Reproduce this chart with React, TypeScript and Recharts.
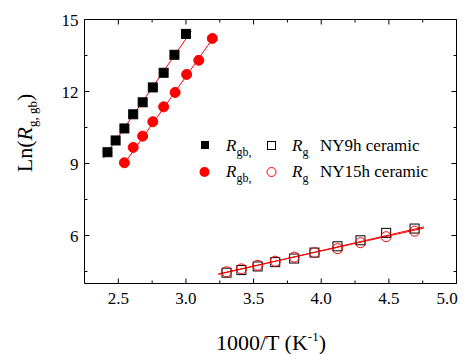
import { ComposedChart, Scatter, Line, XAxis, YAxis, ReferenceLine, Customized } from "recharts"

// NY9h ceramic, grain boundary (high temperature range)
const ny9GbX = [2.42, 2.48, 2.545, 2.61, 2.68, 2.755, 2.835, 2.915, 3.0]
const ny9GbY = [9.47, 9.96, 10.46, 11.05, 11.55, 12.17, 12.78, 13.53, 14.4]
// NY15h ceramic, grain boundary
const ny15GbX = [2.545, 2.61, 2.68, 2.755, 2.835, 2.92, 3.005, 3.095, 3.195]
const ny15GbY = [9.03, 9.67, 10.14, 10.74, 11.36, 11.96, 12.71, 13.3, 14.21]
// grain (low temperature range), both samples
const grainX = [3.3, 3.41, 3.53, 3.66, 3.8, 3.95, 4.12, 4.29, 4.48, 4.69]
const ny9GY = [4.45, 4.56, 4.71, 4.89, 5.04, 5.29, 5.55, 5.8, 6.11, 6.29]
const ny15GY = [4.49, 4.61, 4.76, 4.93, 5.1, 5.28, 5.45, 5.7, 5.95, 6.18]

// fitted lines, end points
const fit9GbX = [2.39, 3.04]
const fit9GbY = [9.22, 14.52]
const fit15GbX = [2.53, 3.22]
const fit15GbY = [8.88, 14.38]
const fitGX = [3.24, 4.76]
const fit9GY = [4.38, 6.36]
const fit15GY = [4.4, 6.31]

const xTicks = [2.5, 2.75, 3.0, 3.25, 3.5, 3.75, 4.0, 4.25, 4.5, 4.75, 5.0]
const yTicks = [4.5, 6, 7.5, 9, 10.5, 12, 13.5, 15]
const xDomain = [2.25, 5.0]
const yDomain = [4, 15]

const pts = (xs: number[], ys: number[]) => xs.map((x, i) => ({ x, y: ys[i] }))

const FONT = "'Liberation Serif', 'Times New Roman', serif"
const RED = "#ff0000"
// chart sits at the body's 8px margin, so it is 458x346
const W = 458
const H = 346
const MARGIN = { top: 11.5, right: 9.5, left: 0.5, bottom: 0.5 }
const PLOT_TOP = MARGIN.top
const PLOT_RIGHT = W - MARGIN.right

const square = (fill: string, stroke: string, s: number) => (p: any) =>
    <rect x={p.cx - s / 2} y={p.cy - s / 2} width={s} height={s} fill={fill} stroke={stroke} strokeWidth={1} />
const circle = (fill: string, stroke: string, r: number) => (p: any) =>
    <circle cx={p.cx} cy={p.cy} r={r} fill={fill} stroke={stroke} strokeWidth={1} />

const isMajorX = (v: number) => Math.abs(v * 2 - Math.round(v * 2)) < 1e-6
const isMajorY = (v: number) => Math.abs(v / 3 - Math.round(v / 3)) < 1e-6

// inward ticks on bottom + top, labels only on major ones
const BottomTick = (p: any) => {
    const v = p.payload.value
    const axisY = p.y - 8
    const len = isMajorX(v) ? 5 : 3
    return (
        <g>
            <path d={`M${p.x},${axisY}v${-len}M${p.x},${PLOT_TOP}v${len}`} stroke="#000" strokeWidth={1} fill="none" />
            {isMajorX(v) && (
                <text x={Math.min(p.x, 439)} y={axisY + 20} textAnchor="middle" fontFamily={FONT} fontSize={17} fill="#000">
                    {v.toFixed(1)}
                </text>
            )}
        </g>
    )
}

// inward ticks on left + right
const LeftTick = (p: any) => {
    const v = p.payload.value
    const axisX = p.x + 6
    const len = isMajorY(v) ? 5 : 3
    return (
        <g>
            <path d={`M${axisX},${p.y}h${len}M${PLOT_RIGHT},${p.y}h${-len}`} stroke="#000" strokeWidth={1} fill="none" />
            {isMajorY(v) && (
                <text x={p.x} y={p.y + 6} textAnchor="end" fontFamily={FONT} fontSize={17} fill="#000">
                    {v}
                </text>
            )}
        </g>
    )
}

const Annotations = () => (
    <g fontFamily={FONT} fill="#000">
        <text x={263} y={342} textAnchor="middle" fontSize={22}>
            1000/T (K<tspan fontSize={13} dy={-9}>-1</tspan><tspan dy={9}>)</tspan>
        </text>
        <text transform="translate(24,125) rotate(-90)" textAnchor="middle" fontSize={22}>
            Ln(<tspan fontStyle="italic">R</tspan><tspan fontSize={13} dy={5}>g, gb</tspan><tspan dy={-5}>)</tspan>
        </text>

        <rect x={193} y={133} width={8} height={8} fill="#000" />
        <text x={218} y={143} fontSize={17}>
            <tspan fontStyle="italic">R</tspan><tspan fontSize={12} dy={5}>gb,</tspan>
        </text>
        <rect x={259.5} y={133.5} width={8} height={8} fill="none" stroke="#000" />
        <text x={284} y={143} fontSize={17}>
            <tspan fontStyle="italic">R</tspan><tspan fontSize={12} dy={5}>g</tspan>
        </text>
        <text x={312} y={143} fontSize={17}>NY9h ceramic</text>

        <circle cx={196.5} cy={164} r={5} fill={RED} />
        <text x={218} y={169} fontSize={17}>
            <tspan fontStyle="italic">R</tspan><tspan fontSize={12} dy={5}>gb,</tspan>
        </text>
        <circle cx={263.5} cy={164} r={4.5} fill="none" stroke={RED} />
        <text x={284} y={169} fontSize={17}>
            <tspan fontStyle="italic">R</tspan><tspan fontSize={12} dy={5}>g</tspan>
        </text>
        <text x={312} y={169} fontSize={17}>NY15h ceramic</text>
    </g>
)

export default function App() {
    return (
        <div>
            <ComposedChart width={W} height={H} margin={MARGIN}>
                <XAxis dataKey="x" type="number" domain={xDomain} ticks={xTicks} height={70} stroke="#000"
                    tickSize={0} tickMargin={8} tick={<BottomTick />} interval={0} />
                <YAxis dataKey="y" type="number" domain={yDomain} ticks={yTicks} width={76} stroke="#000"
                    tickSize={0} tickMargin={6} tick={<LeftTick />} interval={0} />
                <ReferenceLine y={yDomain[1]} stroke="#000" strokeWidth={1} />
                <ReferenceLine x={xDomain[1]} stroke="#000" strokeWidth={1} />

                <Scatter data={pts(grainX, ny9GY)} dataKey="y" shape={square("none", "#000", 9)} isAnimationActive={false} />
                <Scatter data={pts(grainX, ny15GY)} dataKey="y" shape={circle("none", RED, 5)} isAnimationActive={false} />
                <Scatter data={pts(ny9GbX, ny9GbY)} dataKey="y" shape={square("#000", "#000", 9)} isAnimationActive={false} />
                <Scatter data={pts(ny15GbX, ny15GbY)} dataKey="y" shape={circle(RED, RED, 5)} isAnimationActive={false} />

                <Line data={pts(fit9GbX, fit9GbY)} dataKey="y" type="linear" stroke={RED} strokeWidth={1} dot={false} isAnimationActive={false} />
                <Line data={pts(fit15GbX, fit15GbY)} dataKey="y" type="linear" stroke={RED} strokeWidth={1} dot={false} isAnimationActive={false} />
                <Line data={pts(fitGX, fit9GY)} dataKey="y" type="linear" stroke={RED} strokeWidth={1} dot={false} isAnimationActive={false} />
                <Line data={pts(fitGX, fit15GY)} dataKey="y" type="linear" stroke={RED} strokeWidth={1} dot={false} isAnimationActive={false} />

                <Customized component={<Annotations />} />
            </ComposedChart>
        </div>
    )
}
